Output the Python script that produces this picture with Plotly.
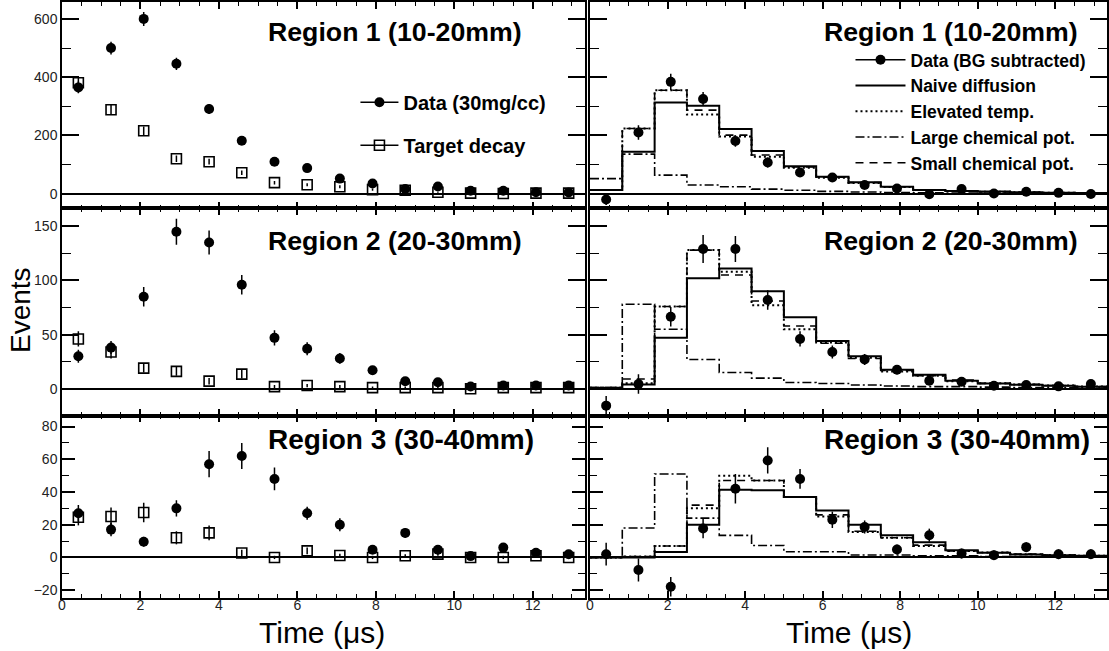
import plotly.graph_objects as go

# ---------------- data ----------------
bin_edges = [0.0, 0.833, 1.667, 2.5, 3.333, 4.167, 5.0, 5.833, 6.667, 7.5,
             8.333, 9.167, 10.0, 10.833, 11.667, 12.5, 13.333]
time_centers = [0.417, 1.25, 2.083, 2.917, 3.75, 4.583, 5.417, 6.25, 7.083,
                7.917, 8.75, 9.583, 10.417, 11.25, 12.083, 12.917]

# Left column: raw data (30mg/cc) and target decay
r1_data = [365, 500, 600, 446, 291, 182, 110, 88, 52, 35, 16, 25, 10, 10, 5, 4]
r1_data_err = [20, 22, 24, 21, 17, 14, 11, 10, 8, 7, 6, 6, 5, 5, 4, 4]
r1_target = [381, 288, 216, 120, 110, 72, 38, 31, 24, 14, 12, 5, 2, 1, 2, 2]
r1_target_err = [20, 17, 15, 11, 10, 8, 6, 5, 5, 4, 3, 2, 1, 1, 1, 1]

r2_data = [30, 38, 85, 145, 135, 96, 47, 37, 28, 17, 7, 6, 2, 3, 3, 3]
r2_data_err = [6, 6, 9, 12, 11, 9, 7, 6, 5, 4, 3, 3, 2, 2, 2, 2]
r2_target = [46, 34, 19, 16, 7, 13.5, 2, 3, 2, 1, 1, 1, 0, 1, 1, 1]
r2_target_err = [7, 6, 4, 4, 3, 4, 1.5, 1.5, 1.5, 1, 1, 1, 1, 1, 1, 1]

r3_data = [27, 17, 9.6, 30, 57, 62, 48, 27, 20, 4.7, 15, 4.7, 0.8, 6, 2.9, 2]
r3_data_err = [5, 4, 3, 5, 8, 8, 7, 4, 4, 2.5, 3, 2.5, 2, 2.5, 2, 2]
r3_target = [24.6, 25, 27.5, 12, 15, 2.7, 0, 4, 1.2, 0, 1, 2, 0, 0, 1, 0]
r3_target_err = [5, 5.5, 6, 4, 4.5, 2, 1, 2, 1, 1, 1, 1, 1, 1, 1, 1]

# Right column: BG-subtracted data and model predictions
r1_bgsub = [-20, 210, 384, 325, 181, 107, 73, 56, 30, 18, -2, 16, 1, 7, 3, -1]
r1_bgsub_err = [19, 25, 28, 24, 20, 17, 14, 12, 10, 9, 8, 8, 7, 6, 6, 6]
r1_naive = [13, 144, 313, 302, 222, 147, 94, 58, 39, 24, 13, 9, 7.6, 5.3, 3, 2.3]
r1_elev = [13, 224, 355, 272, 196, 127, 89, 55, 37, 23, 13, 9, 7, 5, 3, 2]
r1_large = [52, 136, 64, 30, 24, 16, 12, 8, 6, 4, 3, 2, 2, 1, 1, 1]
r1_small = [13, 224, 355, 287, 201, 133, 92, 57, 38, 24, 13, 9, 7, 5, 3, 2]

r2_bgsub = [-15.6, 4.3, 66.5, 129, 129, 82, 46, 34, 27, 17.5, 7.4, 6.4, 2.8, 3.4, 2.2, 4.3]
r2_bgsub_err = [9, 9, 9, 13, 12, 9, 7, 6, 5, 4, 3, 3, 3, 3, 3, 3]
r2_naive = [1, 4, 47, 102, 111, 90, 66, 44, 30, 17.5, 13, 7.4, 4.9, 3.7, 2.8, 1.8]
r2_elev = [1, 5, 76, 128, 108, 77, 55, 42.6, 28.7, 16, 12, 7, 5, 4, 3, 2]
r2_large = [1, 78, 55, 27, 15, 9.8, 5.8, 4.9, 3.4, 2.5, 2, 2, 1.5, 1, 1, 1]
r2_small = [0.5, 9, 76, 128, 105, 81, 58, 42, 28, 17, 12, 8, 5, 4, 3, 2]

r3_bgsub = [2, -7.7, -17.9, 17.7, 42, 59.3, 48, 23, 18.6, 4.9, 13.6, 2.4, 1.4, 6.3, 2, 2]
r3_bgsub_err = [7, 7, 6, 6, 9, 8, 6, 5, 4, 3, 4, 3, 3, 3, 3, 3]
r3_naive = [0, 0, 3.3, 20, 41.4, 41, 37, 28.7, 20, 13.6, 9.3, 4.4, 2.8, 1.8, 1.4, 1]
r3_elev = [0, 0.5, 7, 30, 50, 47, 37, 25, 15.5, 12, 7, 4, 3, 2, 1.5, 1]
r3_large = [0, 18, 51, 24, 13.5, 7.3, 3.5, 3.5, 1.5, 1.5, 1, 1, 0.5, 0.5, 0.5, 0.5]
r3_small = [0, 0.5, 7, 32, 47, 47, 37, 26, 16, 12, 7.5, 4, 3, 2, 1.5, 1]

region_labels = ["Region 1 (10-20mm)", "Region 2 (20-30mm)", "Region 3 (30-40mm)"]
y_ranges = [[-50, 658], [-24.8, 166.6], [-24.8, 86.7]]
y_major = [200, 50, 20]
y_minor = [100, 25, 10]

# ---------------- layout helpers ----------------
W, H = 1109, 651
ML, MR, MT, MB = 62, 0, 0, 53
PW, PH = W - ML - MR, H - MT - MB


def px(xp):
    return (xp - ML) / PW


def py(yp):
    return 1 - (yp - MT) / PH


FONT = "Liberation Sans, Arial, Helvetica, sans-serif"
row_pix = [(0, 207), (207, 415), (415, 598)]
col_pix = [(62, 586), (591, 1109)]

fig = go.Figure()

left_sets = [(r1_data, r1_data_err, r1_target, r1_target_err),
             (r2_data, r2_data_err, r2_target, r2_target_err),
             (r3_data, r3_data_err, r3_target, r3_target_err)]
right_sets = [(r1_bgsub, r1_bgsub_err, r1_naive, r1_elev, r1_large, r1_small),
              (r2_bgsub, r2_bgsub_err, r2_naive, r2_elev, r2_large, r2_small),
              (r3_bgsub, r3_bgsub_err, r3_naive, r3_elev, r3_large, r3_small)]

styles = {
    "naive": dict(color="black", width=2, dash="solid"),
    "elev": dict(color="black", width=2, dash="2px,3px"),
    "large": dict(color="black", width=1.6, dash="9px,3px,2px,3px"),
    "small": dict(color="black", width=1.6, dash="8px,6px"),
}


def step_y(vals):
    return list(vals) + [vals[-1]]


for r in range(3):
    ia = 2 * r + 1
    ib = 2 * r + 2
    xa_l = "x" if ia == 1 else f"x{ia}"
    ya_l = "y" if ia == 1 else f"y{ia}"
    xa_r = f"x{ib}"
    ya_r = f"y{ib}"

    d, de, t, te = left_sets[r]
    fig.add_trace(go.Scatter(
        x=time_centers, y=t, mode="markers", xaxis=xa_l, yaxis=ya_l,
        marker=dict(symbol="square-open", size=10, color="black", line=dict(width=1.6)),
        error_y=dict(type="data", array=te, color="black", thickness=1.5, width=0),
        showlegend=False))
    fig.add_trace(go.Scatter(
        x=time_centers, y=d, mode="markers", xaxis=xa_l, yaxis=ya_l,
        marker=dict(symbol="circle", size=10, color="black"),
        error_y=dict(type="data", array=de, color="black", thickness=1.5, width=0),
        showlegend=False))

    b, be, nv, el, lg, sm = right_sets[r]
    for vals, key in [(lg, "large"), (sm, "small"), (el, "elev"), (nv, "naive")]:
        fig.add_trace(go.Scatter(
            x=bin_edges, y=step_y(vals), mode="lines", line_shape="hv",
            line=styles[key], xaxis=xa_r, yaxis=ya_r, showlegend=False))
    fig.add_trace(go.Scatter(
        x=time_centers, y=b, mode="markers", xaxis=xa_r, yaxis=ya_r,
        marker=dict(symbol="circle", size=10, color="black"),
        error_y=dict(type="data", array=be, color="black", thickness=1.5, width=0),
        showlegend=False))

# legend entries (left column)
fig.add_trace(go.Scatter(x=[None], y=[None], mode="lines+markers", name="<b>Data (30mg/cc)</b>",
                         marker=dict(symbol="circle", size=10, color="black"),
                         line=dict(color="black", width=1.5), legend="legend", legendgroup="a"))
fig.add_trace(go.Scatter(x=[None], y=[None], mode="lines+markers", name="<b>Target decay</b>",
                         marker=dict(symbol="square-open", size=10, color="black", line=dict(width=1.6)),
                         line=dict(color="black", width=1.5), legend="legend", legendgroup="b"))
# legend entries (right column)
fig.add_trace(go.Scatter(x=[None], y=[None], mode="lines+markers", name="<b>Data (BG subtracted)</b>",
                         marker=dict(symbol="circle", size=10, color="black"),
                         line=dict(color="black", width=1.5), legend="legend2"))
for key, nm in [("naive", "Naive diffusion"), ("elev", "Elevated temp."),
                ("large", "Large chemical pot."), ("small", "Small chemical pot.")]:
    fig.add_trace(go.Scatter(x=[None], y=[None], mode="lines", name=f"<b>{nm}</b>",
                             line=styles[key], legend="legend2"))

layout = dict(
    width=W, height=H, margin=dict(l=ML, r=MR, t=MT, b=MB),
    paper_bgcolor="white", plot_bgcolor="white",
    font=dict(family=FONT, color="black"),
    legend=dict(x=px(356), y=py(81), xanchor="left", yanchor="top",
                font=dict(size=20, family=FONT, color="black"),
                bgcolor="rgba(0,0,0,0)", tracegroupgap=14, itemwidth=38),
    legend2=dict(x=px(852), y=py(40), xanchor="left", yanchor="top",
                 font=dict(size=17.5, family=FONT, color="black"),
                 bgcolor="rgba(0,0,0,0)", tracegroupgap=0, itemwidth=50),
)

for r in range(3):
    y0p, y1p = row_pix[r]
    for c in range(2):
        idx = 2 * r + c + 1
        xk = "xaxis" if idx == 1 else f"xaxis{idx}"
        yk = "yaxis" if idx == 1 else f"yaxis{idx}"
        xid = "x" if idx == 1 else f"x{idx}"
        yid = "y" if idx == 1 else f"y{idx}"
        x0p, x1p = col_pix[c]
        ylen_major = 17 if r < 2 else 13
        ylen_minor = 9 if r < 2 else 7
        layout[xk] = dict(
            domain=[px(x0p), min(1.0, px(x1p))], anchor=yid, range=[0, 13.333],
            tickmode="linear", tick0=0, dtick=2, ticks="inside", ticklen=7,
            tickwidth=1.5, tickcolor="black",
            minor=dict(ticks="inside", ticklen=4, dtick=0.5, tick0=0, tickcolor="black",
                       tickwidth=1, showgrid=False),
            showline=True, linecolor="black", linewidth=1.5, mirror="allticks",
            showgrid=False, zeroline=False, showticklabels=(r == 2),
            ticklabelstandoff=-7,
            tickfont=dict(size=14, color="#222", family=FONT),
        )
        layout[yk] = dict(
            domain=[py(y1p), py(y0p)], anchor=xid, range=y_ranges[r],
            tickmode="linear", tick0=0, dtick=y_major[r], ticks="inside",
            ticklen=ylen_major, tickwidth=1.5, tickcolor="black",
            minor=dict(ticks="inside", ticklen=ylen_minor, dtick=y_minor[r], tick0=0,
                       tickcolor="black", tickwidth=1, showgrid=False),
            showline=True, linecolor="black", linewidth=1.5, mirror="allticks",
            showgrid=False, zeroline=True, zerolinecolor="black", zerolinewidth=1.5,
            showticklabels=(c == 0),
            tickfont=dict(size=14, color="#222", family=FONT),
        )

annotations = []
label_y = [30, 240, 439]
label_size = [26.7, 26.7, 28]
for r in range(3):
    for xs in (266, 823):
        annotations.append(dict(
            text=f"<b>{region_labels[r]}</b>", x=px(xs), y=py(label_y[r]),
            xref="paper", yref="paper", xanchor="left", yanchor="middle",
            showarrow=False, font=dict(size=label_size[r], family=FONT, color="black")))
annotations.append(dict(text="Events", x=px(21), y=py(309), xref="paper", yref="paper",
                        xanchor="center", yanchor="middle", textangle=-90, showarrow=False,
                        font=dict(size=28, family=FONT, color="black")))
for xc in (322, 851):
    annotations.append(dict(text="Time (μs)", x=px(xc), y=py(633), xref="paper", yref="paper",
                            xanchor="center", yanchor="middle", showarrow=False,
                            font=dict(size=30, family=FONT, color="black")))
layout["annotations"] = annotations

fig.update_layout(**layout)
fig.write_html("out.html")
